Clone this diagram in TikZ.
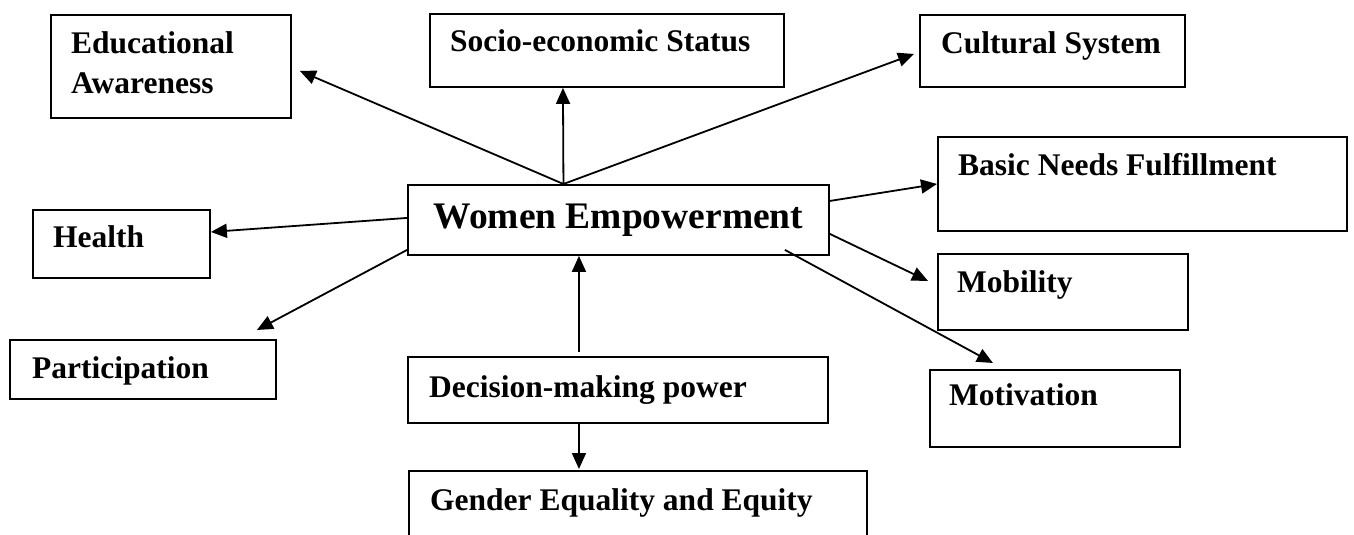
\documentclass[tikz,border=0pt]{standalone}
\usepackage{fontspec}
\setmainfont{Liberation Serif}
\usetikzlibrary{arrows.meta}

\begin{document}
\begin{tikzpicture}[x=1pt,y=-1pt,
  box/.style={draw, line width=1.9pt, anchor=north west, inner sep=0pt},
  lbl/.style={anchor=base west, inner sep=0pt, align=left, font=\fontsize{31.5}{40}\selectfont\bfseries},
  arr/.style={line width=1.8pt, -{Triangle[length=16pt,width=14pt]}}]
\useasboundingbox (0,0) rectangle (1354,535);
\clip (0,0) rectangle (1354,535);

%Centre
\node[box, minimum width=421pt, minimum height=70pt, font=\fontsize{37.5}{44}\selectfont\bfseries] (we) at (407,184) {Women Empowerment};

%Boites
\node[box, minimum width=240pt, minimum height=103pt] (edu) at (50,14) {};
\node[box, minimum width=354pt, minimum height=73pt] (soc) at (429,13) {};
\node[box, minimum width=265pt, minimum height=72pt] (cul) at (919,14) {};
\node[box, minimum width=409pt, minimum height=94pt] (bas) at (937,136) {};
\node[box, minimum width=177pt, minimum height=68pt] (hea) at (32,209) {};
\node[box, minimum width=266pt, minimum height=59pt] (par) at (9,339) {};
\node[box, minimum width=250pt, minimum height=76pt] (mob) at (937,253) {};
\node[box, minimum width=250pt, minimum height=77pt] (mot) at (929,369) {};
\node[box, minimum width=420pt, minimum height=66pt] (dec) at (407,356) {};
\node[box, minimum width=458pt, minimum height=100pt] (gen) at (408,470) {};

%Textes (base = derniere ligne)
\node[lbl] (edu-t) at (71,93) {Educational\\Awareness};
\node[lbl] (soc-t) at (450,52) {Socio-economic Status};
\node[lbl] (cul-t) at (941,53) {Cultural System};
\node[lbl] (bas-t) at (958,175) {Basic Needs Fulfillment};
\node[lbl] (hea-t) at (53,247) {Health};
\node[lbl] (par-t) at (32,378) {Participation};
\node[lbl] (mob-t) at (957,292) {Mobility};
\node[lbl] (mot-t) at (949,405) {Motivation};
\node[lbl] (dec-t) at (429,397) {Decision-making power};
\node[lbl] (gen-t) at (430,510) {Gender Equality and Equity};

%Fleches
\coordinate (hub) at ([xshift=-55pt]we.north);
\draw[arr] (hub) -- ([xshift=8pt,yshift=-4.5pt]edu.east);
\draw[arr] (hub) -- ([xshift=-44pt]soc.south);
\draw[arr] (hub) -- ([xshift=-5pt,yshift=-3pt]cul.west);
\draw[arr] ([yshift=19pt]we.east) -- (bas.west);
\draw[arr] ([yshift=2pt]we.west) -- ([yshift=12pt]hea.east);
\draw[arr] ([yshift=-30pt]we.west) -- ([xshift=-20pt,yshift=9pt]par.north east);
\draw[arr] ([yshift=-14pt]we.east) -- ([xshift=-9pt,yshift=11pt]mob.west);
\draw[arr] ([xshift=-45pt,yshift=6pt]we.south east) -- ([xshift=-62pt,yshift=6pt]mot.north);
\draw[arr] ([xshift=-39pt,yshift=4pt]dec.north) -- ([xshift=-39.5pt]we.south);
\draw[arr] ([xshift=-39pt]dec.south) -- ([xshift=-59pt,yshift=1pt]gen.north);

\end{tikzpicture}
\end{document}
